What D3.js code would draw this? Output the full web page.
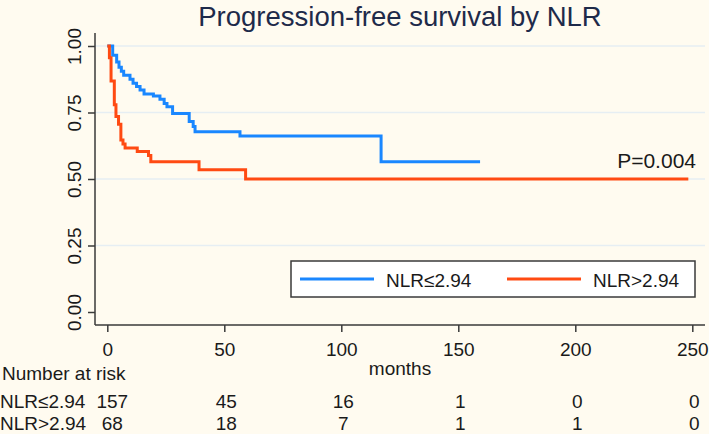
<!DOCTYPE html>
<html>
<head>
<meta charset="utf-8">
<script src="https://cdn.jsdelivr.net/npm/d3@7"></script>
<style>
  body { margin: 0; background: #fffbf0; }
  svg { display: block; font-family: "Liberation Sans", Arial, sans-serif; }
</style>
</head>
<body>
<div id="chart"></div>
<script>
// Kaplan-Meier step points (months, survival)
const lowTimes = [0, 2.3, 4.0, 5.0, 6.0, 7.0, 9.7, 11.0, 12.5, 14.0, 15.7, 19.7, 22.5, 24.3, 25.5, 27.9, 35.0, 36.7, 37.5, 56.7, 117.0, 159.3];
const lowSurv  = [1.00, 0.965, 0.94, 0.92, 0.905, 0.89, 0.875, 0.86, 0.848, 0.835, 0.82, 0.812, 0.80, 0.784, 0.772, 0.746, 0.716, 0.697, 0.678, 0.662, 0.565, 0.565];
const highTimes = [0, 0.9, 1.6, 3.0, 3.7, 4.8, 5.8, 6.7, 7.6, 12.8, 17.6, 18.6, 39.2, 59.1, 248.3];
const highSurv  = [1.00, 0.956, 0.868, 0.779, 0.735, 0.706, 0.647, 0.632, 0.617, 0.603, 0.588, 0.565, 0.535, 0.50, 0.50];

const groups = ["NLR≤2.94", "NLR>2.94"];
const colors = ["#1a87ff", "#ff4a12"];
const xTicks = [0, 50, 100, 150, 200, 250];
const yTicks = [0, 0.25, 0.5, 0.75, 1];
const riskLow = [157, 45, 16, 1, 0, 0];
const riskHigh = [68, 18, 7, 1, 1, 0];
const pValue = "P=0.004";

const W = 709, H = 434;
const svg = d3.select("#chart").append("svg")
    .attr("width", W)
    .attr("height", H);

svg.append("rect").attr("width", W).attr("height", H).attr("fill", "#fffbf0");

const x = d3.scaleLinear().domain([0, 250]).range([107.3, 692.3]);
const y = d3.scaleLinear().domain([0, 1]).range([312, 46]);

// gridlines
svg.append("g")
    .selectAll("line")
    .data(yTicks.filter(d => d > 0))
    .enter()
    .append("line")
    .attr("x1", 95).attr("x2", 705)
    .attr("y1", d => y(d)).attr("y2", d => y(d))
    .attr("stroke", "#e6eef3")
    .attr("stroke-width", 1.5);

// y axis
const yAxis = svg.append("g")
    .attr("transform", "translate(95,0)")
    .call(d3.axisLeft(y).tickValues(yTicks).tickFormat(d3.format(".2f")).tickSize(7).tickSizeOuter(0));
yAxis.select(".domain").attr("d", "M0,33V325").attr("stroke", "#3a3a3a").attr("stroke-width", 1.5);
yAxis.selectAll(".tick line").attr("stroke", "#3a3a3a").attr("stroke-width", 1.5);
yAxis.selectAll(".tick text")
    .attr("transform", "rotate(-90)")
    .attr("x", 0).attr("y", -14).attr("dy", 0)
    .style("text-anchor", "middle")
    .attr("font-size", "19px")
    .attr("fill", "#1a1a1a");

// x axis
const xAxis = svg.append("g")
    .attr("transform", "translate(0,325)")
    .call(d3.axisBottom(x).tickValues(xTicks).tickSize(7).tickSizeOuter(0));
xAxis.select(".domain").attr("d", "M95,0H705").attr("stroke", "#3a3a3a").attr("stroke-width", 1.5);
xAxis.selectAll(".tick line").attr("stroke", "#3a3a3a").attr("stroke-width", 1.5);
xAxis.selectAll(".tick text")
    .attr("y", 31).attr("dy", 0)
    .attr("font-size", "19px")
    .attr("fill", "#1a1a1a");

svg.append("text")
    .attr("x", 400).attr("y", 375)
    .attr("text-anchor", "middle")
    .attr("font-size", "19px")
    .attr("fill", "#1a1a1a")
    .text("months");

// curves
const line = d3.line()
    .x(d => x(d[0]))
    .y(d => y(d[1]))
    .curve(d3.curveStepAfter);

const series = [
    lowTimes.map((t, i) => [t, lowSurv[i]]),
    highTimes.map((t, i) => [t, highSurv[i]])
];

svg.append("g")
    .selectAll("path")
    .data(series)
    .enter()
    .append("path")
    .attr("fill", "none")
    .attr("stroke", (d, i) => colors[i])
    .attr("stroke-width", 3)
    .attr("d", d => line(d));

// title
svg.append("text")
    .attr("x", 400).attr("y", 26)
    .attr("text-anchor", "middle")
    .attr("font-size", "27.5px")
    .attr("fill", "#1e2a4a")
    .text("Progression-free survival by NLR");

// p value
svg.append("text")
    .attr("x", 696).attr("y", 168)
    .attr("text-anchor", "end")
    .attr("font-size", "21px")
    .attr("fill", "#1a1a1a")
    .text(pValue);

// legend
const legend = svg.append("g");
legend.append("rect")
    .attr("x", 291).attr("y", 261)
    .attr("width", 404).attr("height", 36)
    .attr("fill", "#ffffff")
    .attr("stroke", "#3a3a3a")
    .attr("stroke-width", 1.5);
const legX = [300, 507];
groups.forEach((g, i) => {
    legend.append("line")
        .attr("x1", legX[i]).attr("x2", legX[i] + 74)
        .attr("y1", 279).attr("y2", 279)
        .attr("stroke", colors[i])
        .attr("stroke-width", 3);
    legend.append("text")
        .attr("x", legX[i] + 86).attr("y", 286.5)
        .attr("font-size", "19px")
        .attr("fill", "#1a1a1a")
        .text(g);
});

// number at risk table
svg.append("text")
    .attr("x", 2).attr("y", 380)
    .attr("font-size", "19px")
    .attr("fill", "#1a1a1a")
    .text("Number at risk");

const rows = [riskLow, riskHigh];
const rowY = [408, 430];
rows.forEach((r, i) => {
    svg.append("text")
        .attr("x", 0).attr("y", rowY[i])
        .attr("font-size", "19px")
        .attr("fill", "#1a1a1a")
        .text(groups[i]);
    svg.append("g")
        .selectAll("text")
        .data(r)
        .enter()
        .append("text")
        .attr("x", (d, j) => x(xTicks[j]) + (j === 0 ? 5 : 2))
        .attr("y", rowY[i])
        .attr("text-anchor", "middle")
        .attr("font-size", "19px")
        .attr("fill", "#1a1a1a")
        .text(d => d);
});
</script>
</body>
</html>
